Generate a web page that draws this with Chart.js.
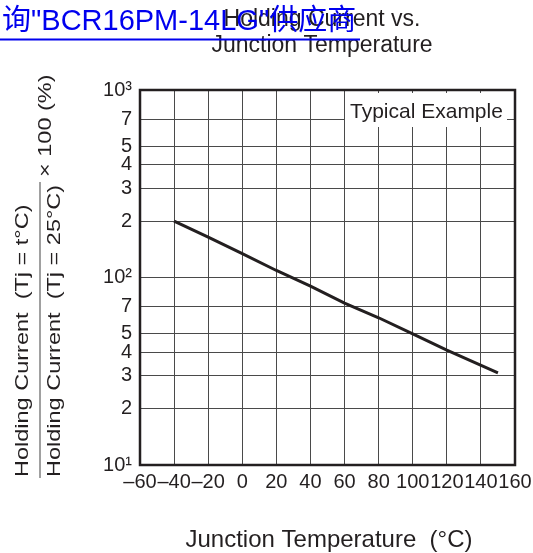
<!DOCTYPE html>
<html>
<head>
<meta charset="utf-8">
<title>Holding Current vs. Junction Temperature</title>
<script src="https://cdn.jsdelivr.net/npm/chart.js@4.4.1/dist/chart.umd.min.js"></script>
<style>
  html, body { margin: 0; padding: 0; background: #fff; }
  #wrap { position: relative; width: 533px; height: 553px; }
</style>
</head>
<body>
<div id="wrap"><canvas id="chart"></canvas></div>
<script>
(function () {
  'use strict';

  /* ---- data ---- */
  var temps = [-40, -20, 0, 20, 40, 60, 80, 100, 120, 150];
  var ratios = [200, 164, 134, 109, 90, 73, 61, 50, 41, 31];

  var xTickValues = [-60, -40, -20, 0, 20, 40, 60, 80, 100, 120, 140, 160];
  var xTickLabels = ['\u201360', '\u201340', '\u201320', '0', '20', '40', '60', '80', '100', '120', '140', '160'];
  var yTickValues = [10, 20, 30, 40, 50, 70, 100, 200, 300, 400, 500, 700, 1000];
  var yTickLabels = ['10\u00b9', '2', '3', '4', '5', '7', '10\u00b2', '2', '3', '4', '5', '7', '10\u00b3'];

  var titleLines = ['Holding Current vs.', 'Junction Temperature'];
  var xTitle = 'Junction Temperature  (\u00b0C)';
  var yTitleTop = 'Holding Current  (Tj = t\u00b0C)';
  var yTitleBottom = 'Holding Current  (Tj = 25\u00b0C)';
  var yTitleFactor = '\u00d7 100 (%)';
  var noteText = 'Typical Example';
  var overlayText = '\u8be2"BCR16PM-14LG"\u4f9b\u5e94\u5546';

  var FONT = '"Liberation Sans", Arial, sans-serif';
  var INK = '#231f20';

  /* rotated, slightly condensed text for the y title */
  function rotText(ctx, text, x, y, size) {
    ctx.save();
    ctx.translate(x, y);
    ctx.rotate(-Math.PI / 2);
    ctx.scale(1, 0.76);
    ctx.font = size + 'px ' + FONT;
    ctx.textAlign = 'left';
    ctx.textBaseline = 'alphabetic';
    ctx.fillText(text, 0, 0);
    ctx.restore();
  }

  var decorations = {
    id: 'decorations',
    beforeDatasetsDraw: function (chart) {
      var ctx = chart.ctx;
      ctx.save();
      // white label box over the grid
      ctx.fillStyle = '#fff';
      ctx.fillRect(345, 93, 162, 34);
      ctx.fillStyle = INK;
      ctx.font = '21px ' + FONT;
      ctx.textAlign = 'left';
      ctx.textBaseline = 'alphabetic';
      ctx.fillText(noteText, 350, 118);
      ctx.restore();
    },
    afterDraw: function (chart) {
      var ctx = chart.ctx;
      var a = chart.chartArea;
      ctx.save();

      // frame
      ctx.strokeStyle = INK;
      ctx.lineWidth = 2.5;
      ctx.strokeRect(a.left, a.top, a.right - a.left, a.bottom - a.top);

      // title
      ctx.fillStyle = INK;
      ctx.font = '23px ' + FONT;
      ctx.textAlign = 'center';
      ctx.textBaseline = 'alphabetic';
      ctx.fillText(titleLines[0], 322, 26);
      ctx.fillText(titleLines[1], 322, 52);

      // x title
      ctx.font = '24px ' + FONT;
      ctx.fillText(xTitle, 329, 547);

      // y title as a fraction
      rotText(ctx, yTitleTop, 28, 477, 23.5);
      rotText(ctx, yTitleBottom, 60, 477, 23.5);
      rotText(ctx, yTitleFactor, 51, 177, 23.5);
      ctx.strokeStyle = '#808080';
      ctx.lineWidth = 1.5;
      ctx.beginPath();
      ctx.moveTo(40, 182);
      ctx.lineTo(40, 478);
      ctx.stroke();

      // blue overlay link text
      ctx.fillStyle = '#0000ee';
      ctx.font = '29px ' + FONT + ', "Noto Sans CJK SC"';
      ctx.textAlign = 'left';
      ctx.fillText(overlayText, 2, 30);
      ctx.fillRect(0, 38.5, 360, 2);

      ctx.restore();
    }
  };

  var points = temps.map(function (t, i) { return { x: t, y: ratios[i] }; });

  new Chart(document.getElementById('chart'), {
    type: 'line',
    data: {
      datasets: [{
        data: points,
        borderColor: INK,
        borderWidth: 3,
        pointRadius: 0,
        tension: 0,
        fill: false
      }]
    },
    options: {
      responsive: true,
      maintainAspectRatio: false,
      animation: false,
      layout: { padding: { top: 90, right: 18, left: 0, bottom: 0 } },
      plugins: { legend: { display: false }, tooltip: { enabled: false } },
      scales: {
        x: {
          type: 'linear',
          min: -60,
          max: 160,
          afterFit: function (s) {
            s.height = 88;
            s.paddingLeft = 0;
            s.paddingRight = 0;
          },
          afterBuildTicks: function (s) {
            s.ticks = xTickValues.map(function (v) { return { value: v }; });
          },
          ticks: {
            autoSkip: false,
            maxRotation: 0,
            padding: 5,
            color: INK,
            font: { family: FONT, size: 20 },
            callback: function (v, i) { return xTickLabels[i]; }
          },
          grid: { color: '#4a4a4a', lineWidth: 1, drawTicks: false },
          border: { display: false }
        },
        y: {
          type: 'logarithmic',
          min: 10,
          max: 1000,
          afterFit: function (s) {
            s.width = 140;
            s.paddingTop = 0;
            s.paddingBottom = 0;
          },
          afterBuildTicks: function (s) {
            s.ticks = yTickValues.map(function (v) { return { value: v }; });
          },
          ticks: {
            autoSkip: false,
            padding: 8,
            color: INK,
            font: { family: FONT, size: 20 },
            callback: function (v, i) { return yTickLabels[i]; }
          },
          grid: { color: '#4a4a4a', lineWidth: 1, drawTicks: false },
          border: { display: false }
        }
      }
    },
    plugins: [decorations]
  });
}());
</script>
</body>
</html>
